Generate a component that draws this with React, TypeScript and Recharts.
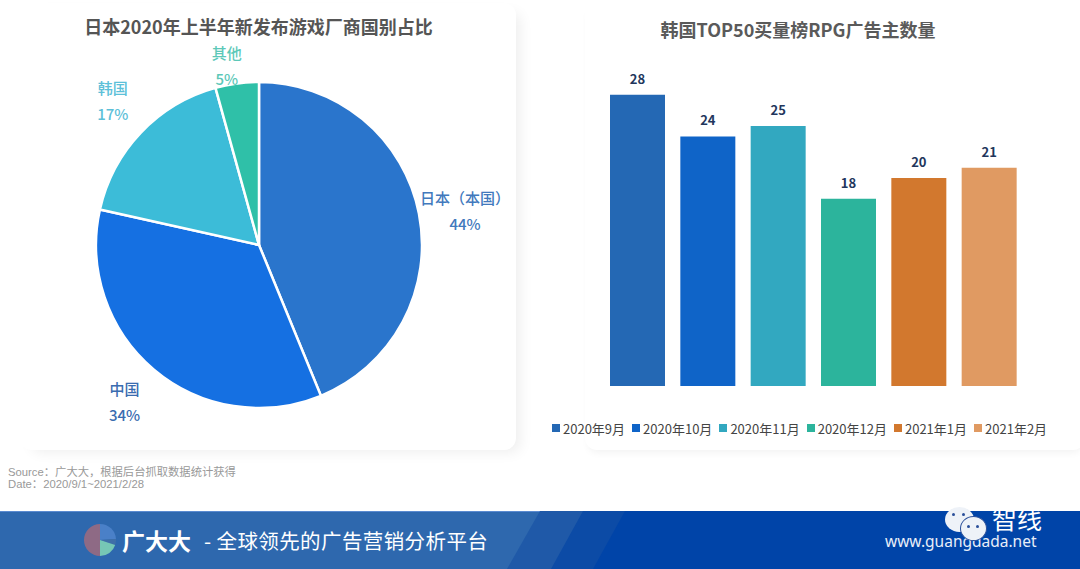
import { Bar, BarChart, Cell, LabelList, Legend, Pie, PieChart, XAxis, YAxis } from "recharts";

const FONT = '"Noto Sans CJK SC", "Noto Sans", sans-serif';
const NO_MARGIN = { top: 0, right: 0, bottom: 0, left: 0 };

const pieNames = ["日本（本国）", "中国", "韩国", "其他"];
// slice sizes as drawn in the picture, the printed percentages are rounded differently
const pieValues = [43.8, 34.7, 17.2, 4.3];
const piePercents = ["44%", "34%", "17%", "5%"];
const pieColors = ["#2a75cc", "#1570e2", "#3cbcd8", "#2fc0a8"];
const pieTextColors = ["#4179bd", "#3a6cb0", "#5cc0d8", "#5cc8b8"];
// nudges away from the radial label spot, the original layout is not purely radial
const pieLabelNudge = [
  [0, 7],
  [1, -4],
  [6, 1],
  [-4, 29],
];

const months = ["2020年9月", "2020年10月", "2020年11月", "2020年12月", "2021年1月", "2021年2月"];
const advertisers = [28, 24, 25, 18, 20, 21];
const barColors = ["#2468b4", "#0f64c8", "#32a8c0", "#2cb49c", "#d2782e", "#e09a62"];

const logoValues = [24, 6, 20, 50];
const logoColors = ["#4a80c8", "#3f6fa8", "#76c7b5", "#8e6a85"];

const pieData = pieNames.map((name, i) => ({ name, value: pieValues[i] }));
const barData = months.map((month, i) => ({ month, value: advertisers[i] }));
const logoData = logoValues.map((value) => ({ value }));

const RAD = Math.PI / 180;

const PieLabel = (props: any) => {
  const { cx, cy, midAngle, index, name } = props;
  const x = cx + 210 * Math.cos(-midAngle * RAD) + pieLabelNudge[index][0];
  const y = cy + 210 * Math.sin(-midAngle * RAD) + pieLabelNudge[index][1];
  return (
    <text x={x} textAnchor="middle" lang="zh-TW" fontFamily='"Noto Sans CJK TC", sans-serif' fontSize={15} fontWeight={500} fill={pieTextColors[index]}>
      <tspan x={x} y={y - 7}>{name}</tspan>
      <tspan x={x} y={y + 19}>{piePercents[index]}</tspan>
    </text>
  );
};

const MonthLegend = () => (
  <div style={{ display: "flex", fontFamily: FONT, fontSize: 13, color: "#444", height: 18, alignItems: "center", whiteSpace: "nowrap" }}>
    {months.map((m, i) => (
      <span key={m} style={{ display: "flex", alignItems: "center", marginRight: 7 }}>
        <span style={{ width: 8, height: 8, background: barColors[i], marginRight: 3 }} />
        {m}
      </span>
    ))}
  </div>
);

const abs = (left: number, top: number, width: number, height: number): React.CSSProperties => ({
  position: "absolute",
  left,
  top,
  width,
  height,
});

const eye = (left: number, top: number): React.CSSProperties => ({
  ...abs(left, top, 3, 3),
  borderRadius: "50%",
  background: "#2a4f9a",
});

const App = () => (
  <div style={{ ...abs(0, 0, 1080, 569), overflow: "hidden", background: "#fff", fontFamily: FONT }}>
    <div style={{ ...abs(20, 3, 496, 447), borderRadius: 12, background: "#fff", boxShadow: "8px 6px 14px -4px rgba(0,0,0,0.07)" }} />
    <div style={{ ...abs(585, 0, 500, 450), borderRadius: 12, background: "#fff", boxShadow: "0 6px 8px -4px rgba(0,0,0,0.06)" }} />

    <div style={{ ...abs(0, 12, 517, 28), textAlign: "center", fontSize: 18, lineHeight: "28px", fontWeight: 700, color: "#555" }}>
      日本2020年上半年新发布游戏厂商国别占比
    </div>
    <div style={{ position: "absolute", left: 540, top: 15, width: 516, textAlign: "center", fontSize: 18, lineHeight: "28px", fontWeight: 700, color: "#5a5a5a" }}>
      韩国TOP50买量榜RPG广告主数量
    </div>

    <div style={{ position: "absolute", left: 0, top: 0 }}>
      <PieChart width={540} height={450} margin={NO_MARGIN}>
        <Pie
          data={pieData}
          dataKey="value"
          nameKey="name"
          cx={259}
          cy={245}
          outerRadius={163}
          startAngle={90}
          endAngle={-270}
          stroke="#fff"
          strokeWidth={2.5}
          label={PieLabel}
          labelLine={false}
          isAnimationActive={false}
        >
          {pieData.map((d, i) => (
            <Cell key={d.name} fill={pieColors[i]} />
          ))}
        </Pie>
      </PieChart>
    </div>

    <div style={{ position: "absolute", left: 585, top: 60 }}>
      <BarChart width={495} height={400} data={barData} margin={{ top: 0, right: 56, left: 17, bottom: 56 }}>
        <XAxis dataKey="month" hide />
        <YAxis hide domain={[0, 31.35]} />
        <Legend content={MonthLegend} align="left" verticalAlign="bottom" wrapperStyle={{ left: -33, bottom: 23, width: 540 }} />
        <Bar dataKey="value" barSize={55} isAnimationActive={false}>
          {barData.map((d, i) => (
            <Cell key={d.month} fill={barColors[i]} />
          ))}
          <LabelList dataKey="value" position="top" offset={11} fontFamily={FONT} fontSize={13} fontWeight={700} fill="#22365c" />
        </Bar>
      </BarChart>
    </div>

    <div style={{ ...abs(8, 465.5, 400, 26), fontSize: 11.3, lineHeight: "12.5px", color: "#999", fontFamily: '"Liberation Sans", "Noto Sans CJK SC", sans-serif' }}>
      <div>Source：广大大，根据后台抓取数据统计获得</div>
      <div>Date：2020/9/1~2021/2/28</div>
    </div>

    <div style={{ ...abs(0, 511, 1080, 58), background: "#2e68ae", borderTop: "1px solid #5a8ad0", boxSizing: "border-box" }} />
    <div style={{ ...abs(0, 511, 1080, 58), background: "#1f59a8", clipPath: "polygon(540px 0, 1080px 0, 1080px 58px, 507px 58px)" }} />
    <div style={{ ...abs(0, 511, 1080, 58), background: "#0c4ba6", clipPath: "polygon(583px 0, 1080px 0, 1080px 58px, 551px 58px)" }} />
    <div style={{ ...abs(0, 511, 1080, 58), background: "#0044a8", clipPath: "polygon(625px 0, 1080px 0, 1080px 58px, 593px 58px)" }} />

    <div style={{ position: "absolute", left: 84, top: 524 }}>
      <PieChart width={32} height={32} margin={NO_MARGIN}>
        <Pie data={logoData} dataKey="value" cx={16} cy={16} outerRadius={16} startAngle={90} endAngle={-270} stroke="none" isAnimationActive={false}>
          {logoData.map((_, i) => (
            <Cell key={i} fill={logoColors[i]} />
          ))}
        </Pie>
      </PieChart>
    </div>
    <div style={{ ...abs(122, 524, 80, 32), fontSize: 23, lineHeight: "32px", fontWeight: 700, color: "#fff", whiteSpace: "nowrap" }}>广大大</div>
    <div style={{ ...abs(204, 525, 300, 30), fontSize: 20.5, letterSpacing: 0.4, lineHeight: "30px", color: "#fff", whiteSpace: "nowrap" }}>- 全球领先的广告营销分析平台</div>

    <div style={{ ...abs(885, 533, 170, 16), fontSize: 15.5, lineHeight: "16px", color: "#e8eef8", whiteSpace: "nowrap", fontFamily: '"Noto Sans", sans-serif' }}>www.guangdada.net</div>
    <div style={{ ...abs(945, 507, 29, 25), borderRadius: "50%", background: "#eef2f8" }}>
      <div style={eye(7, 6)} />
      <div style={eye(17, 6)} />
    </div>
    <div style={{ ...abs(960, 516, 27, 25), borderRadius: "50%", background: "#eef2f8", border: "1px solid #2a4f9a", boxSizing: "border-box" }}>
      <div style={eye(6, 8)} />
      <div style={eye(15, 8)} />
    </div>
    <div style={{ ...abs(992, 505, 56, 26), fontSize: 25, lineHeight: "26px", color: "#fff", whiteSpace: "nowrap" }}>智线</div>
  </div>
);

export default App;
